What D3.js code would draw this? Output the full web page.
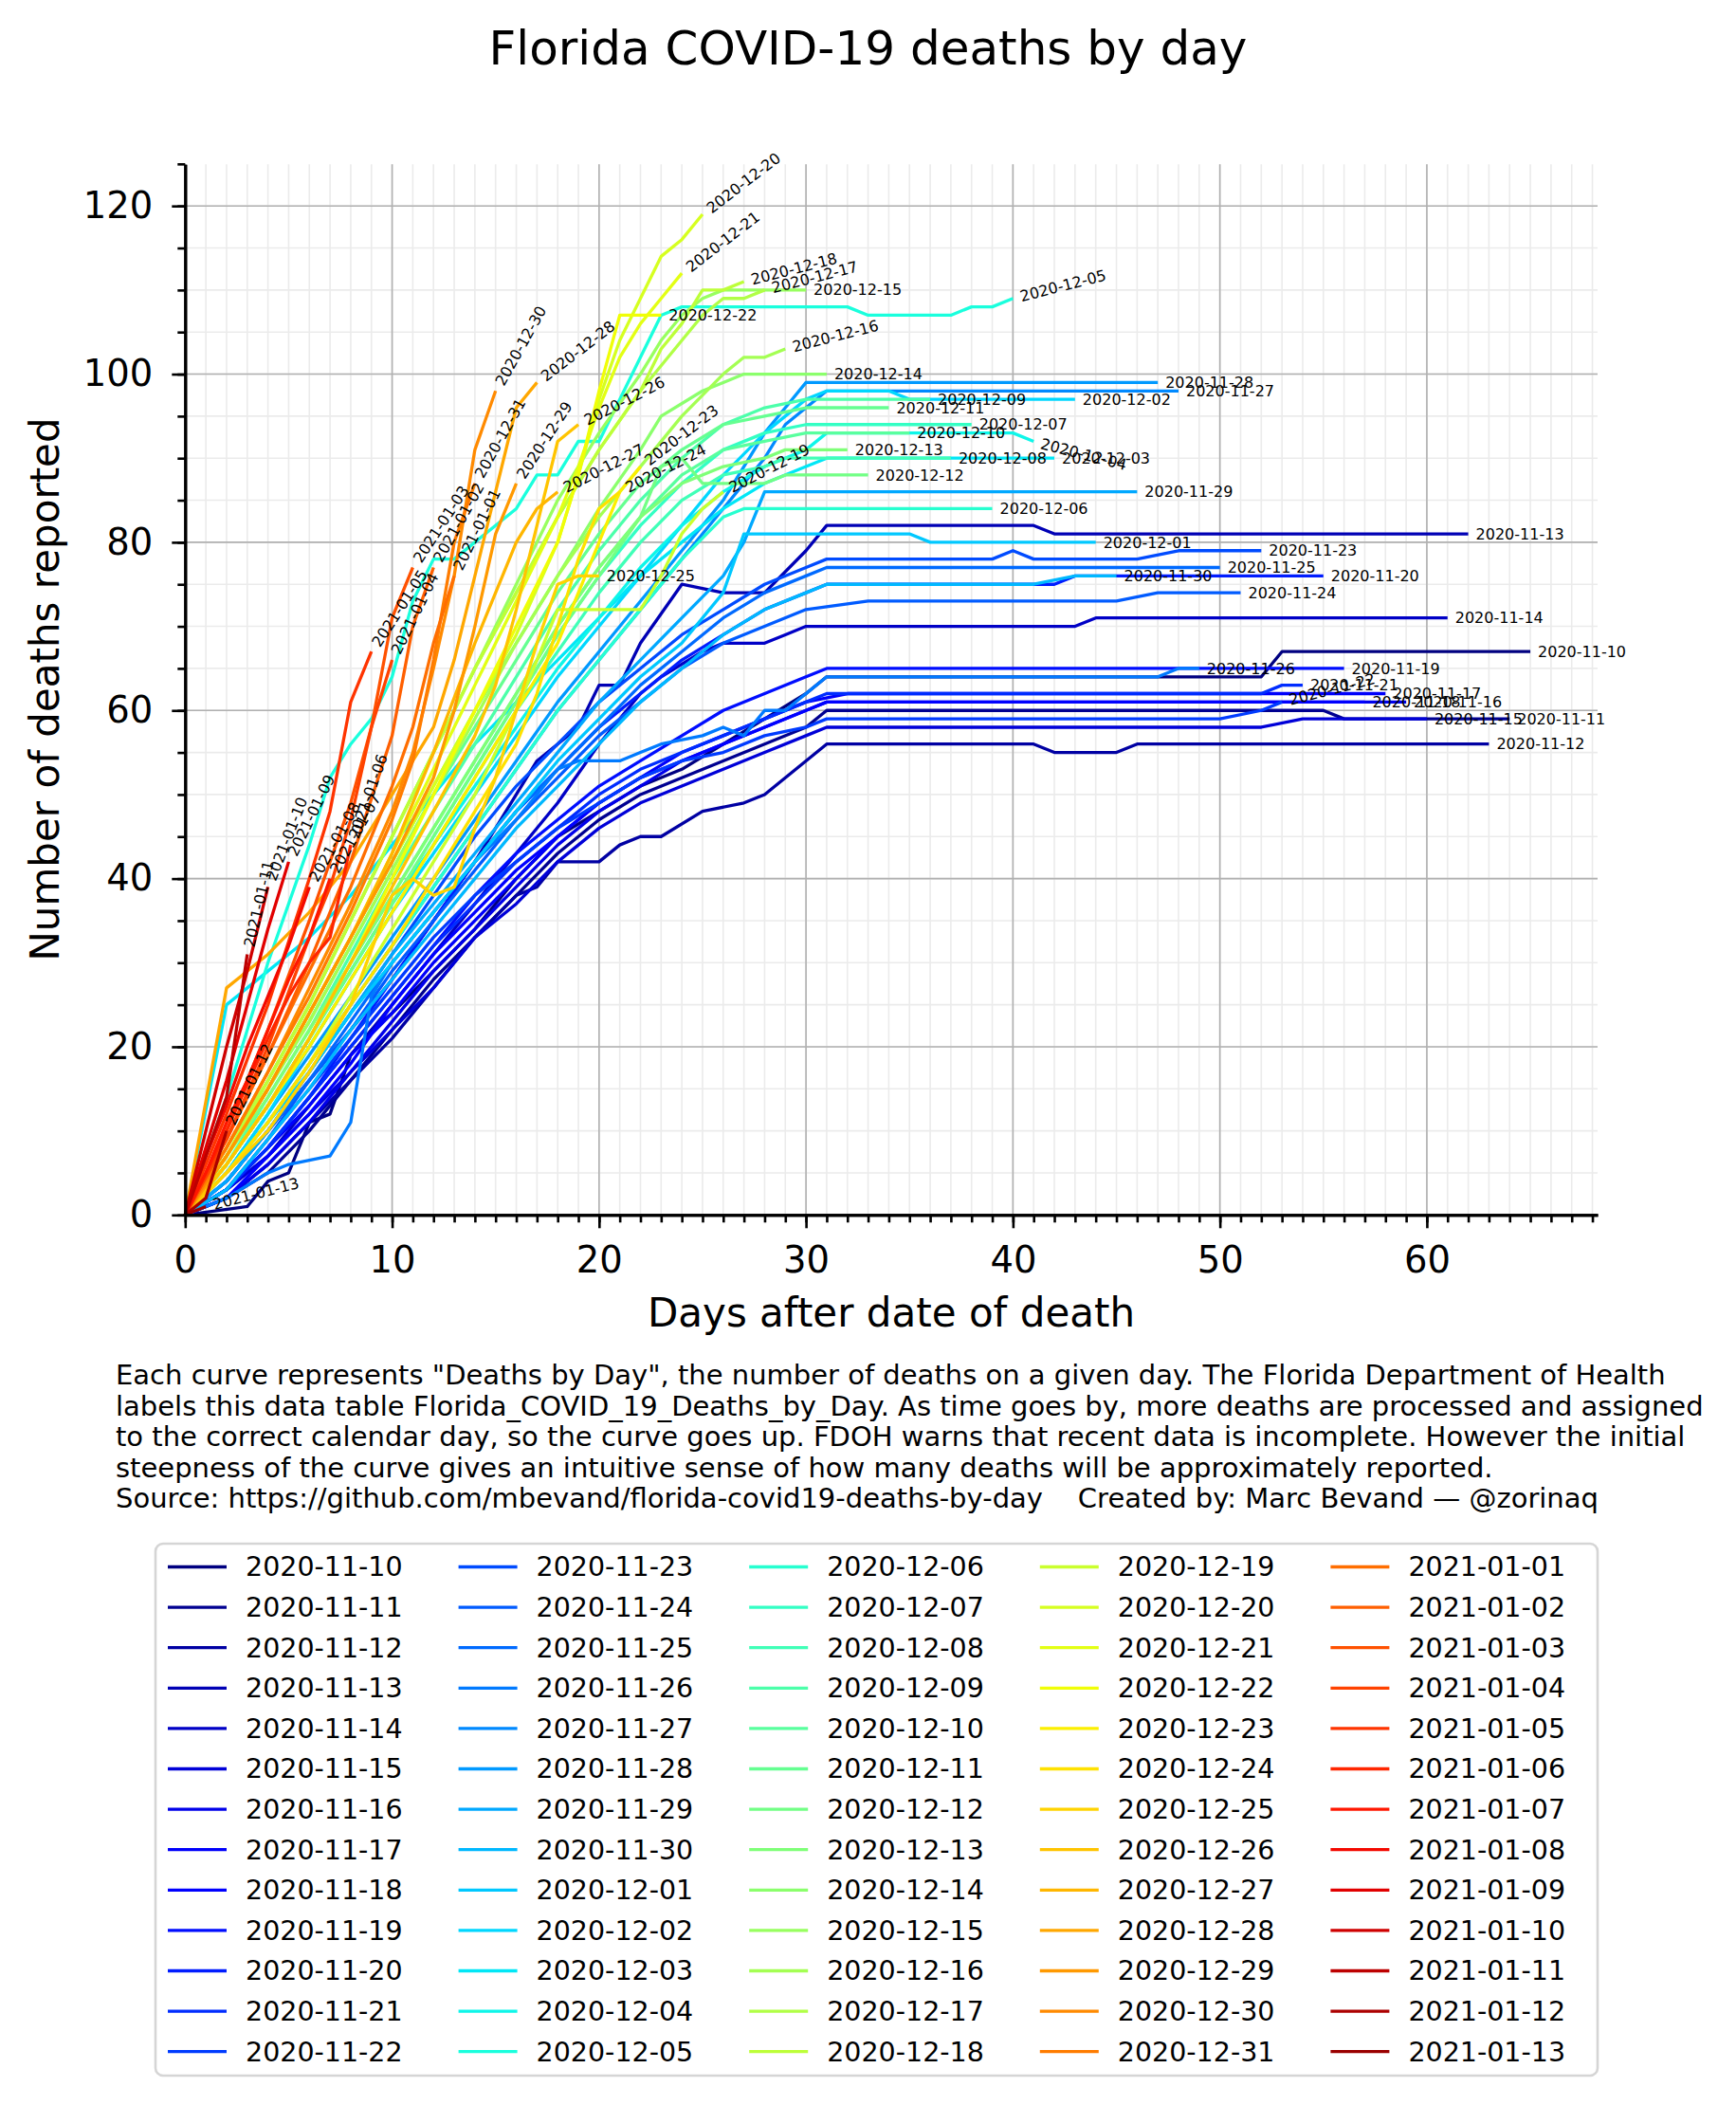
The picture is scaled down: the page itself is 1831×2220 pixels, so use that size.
<!DOCTYPE html>
<html><head><meta charset="utf-8">
<script src="https://cdn.jsdelivr.net/npm/d3@7"></script>
<style>body{margin:0;background:#fff}svg{display:block}text{font-family:"DejaVu Sans",sans-serif}</style>
</head><body><svg id="c" width="1831" height="2220"></svg>
<script>
// ---- data: dates (series names) ----
const novDates = ["2020-11-10","2020-11-11","2020-11-12","2020-11-13","2020-11-14","2020-11-15","2020-11-16","2020-11-17","2020-11-18","2020-11-19","2020-11-20","2020-11-21","2020-11-22","2020-11-23","2020-11-24","2020-11-25","2020-11-26","2020-11-27","2020-11-28","2020-11-29","2020-11-30"];
const decDates = ["2020-12-01","2020-12-02","2020-12-03","2020-12-04","2020-12-05","2020-12-06","2020-12-07","2020-12-08","2020-12-09","2020-12-10","2020-12-11","2020-12-12","2020-12-13","2020-12-14","2020-12-15","2020-12-16","2020-12-17","2020-12-18","2020-12-19","2020-12-20","2020-12-21","2020-12-22","2020-12-23","2020-12-24","2020-12-25","2020-12-26","2020-12-27","2020-12-28","2020-12-29","2020-12-30","2020-12-31"];
const janDates = ["2021-01-01","2021-01-02","2021-01-03","2021-01-04","2021-01-05","2021-01-06","2021-01-07","2021-01-08","2021-01-09","2021-01-10","2021-01-11","2021-01-12","2021-01-13"];

// ---- data: [days after date of death, deaths reported] ----
const novSeries = [
 [[0,0],[3,1],[4,4],[5,5],[6,11],[7,12],[8,19],[9,22],[10,24],[12,29],[14,34],[16,40],[18,45],[20,48],[22,51],[24,53],[26,56],[28,59],[30,62],[31,64],[52,64],[53,67],[65,67]],
 [[0,0],[2,2],[4,5],[6,10],[8,16],[10,22],[12,28],[14,33],[16,38],[18,43],[20,47],[22,50],[24,52],[26,54],[28,56],[30,58],[31,60],[55,60],[56,59],[64,59]],
 [[0,0],[2,2],[4,6],[6,11],[8,16],[10,21],[12,27],[14,33],[16,38],[17,39],[18,42],[20,42],[21,44],[22,45],[23,45],[25,48],[27,49],[28,50],[29,52],[30,54],[31,56],[41,56],[42,55],[45,55],[46,56],[63,56]],
 [[0,0],[2,4],[4,10],[6,16],[8,22],[10,28],[12,35],[14,42],[16,50],[17,54],[19,58],[20,63],[21,63],[22,68],[24,75],[26,74],[28,74],[30,79],[31,82],[41,82],[42,81],[62,81]],
 [[0,0],[2,3],[4,7],[6,13],[8,19],[10,25],[12,31],[14,37],[16,43],[18,49],[20,56],[22,62],[23,64],[25,67],[26,68],[28,68],[29,69],[30,70],[43,70],[44,71],[61,71]],
 [[0,0],[2,3],[4,7],[6,12],[8,17],[10,22],[12,27],[14,33],[16,37],[18,42],[20,46],[22,49],[24,51],[26,53],[28,55],[30,57],[31,58],[52,58],[54,59],[60,59]],
 [[0,0],[2,2],[4,6],[6,11],[8,17],[10,23],[12,29],[14,34],[16,39],[18,44],[20,48],[22,51],[24,54],[26,56],[28,58],[30,60],[31,61],[59,61]],
 [[0,0],[2,3],[4,8],[6,13],[8,19],[10,24],[12,30],[14,35],[16,40],[18,45],[20,49],[22,52],[24,55],[26,57],[28,59],[30,61],[32,62],[58,62]],
 [[0,0],[2,2],[4,7],[6,12],[8,18],[10,25],[12,31],[14,36],[16,41],[18,45],[20,49],[22,52],[24,54],[26,56],[28,58],[30,60],[31,61],[57,61]],
 [[0,0],[2,3],[4,8],[6,14],[8,20],[10,26],[12,32],[14,38],[16,43],[18,47],[20,51],[22,54],[24,57],[26,60],[28,62],[30,64],[31,65],[56,65]],
 [[0,0],[2,3],[4,8],[6,14],[8,21],[10,28],[12,35],[14,42],[16,48],[18,53],[20,58],[22,62],[24,66],[26,69],[28,72],[30,74],[31,75],[42,75],[43,76],[55,76]],
 [[0,0],[2,3],[4,8],[6,14],[8,20],[10,26],[12,32],[14,37],[16,42],[18,46],[20,50],[22,53],[24,55],[26,57],[28,59],[30,61],[31,62],[52,62],[53,63],[54,63]],
 [[0,0],[2,3],[4,9],[6,15],[8,21],[10,27],[12,33],[14,38],[16,42],[18,46],[20,49],[22,52],[24,54],[26,55],[28,57],[30,58],[31,59],[50,59],[52,60],[53,61]],
 [[0,0],[2,4],[4,10],[6,17],[8,24],[10,31],[12,38],[14,45],[16,51],[18,56],[20,61],[22,65],[24,69],[26,72],[28,75],[30,77],[31,78],[39,78],[40,79],[41,78],[46,78],[48,79],[52,79]],
 [[0,0],[2,3],[4,9],[6,16],[8,22],[10,29],[12,35],[14,41],[16,47],[18,52],[20,57],[22,61],[24,65],[26,68],[28,70],[30,72],[33,73],[45,73],[47,74],[51,74]],
 [[0,0],[2,4],[4,10],[6,16],[8,23],[10,30],[12,36],[14,42],[16,48],[18,53],[20,58],[22,63],[24,67],[26,71],[28,74],[30,76],[31,77],[50,77]],
 [[0,0],[2,2],[4,5],[5,6],[7,7],[8,11],[9,26],[10,30],[12,36],[14,42],[16,47],[17,50],[18,53],[19,54],[21,54],[22,55],[23,56],[25,57],[26,58],[27,57],[28,60],[29,60],[30,62],[31,64],[47,64],[48,65],[49,65]],
 [[0,0],[2,5],[4,11],[6,18],[8,25],[10,32],[12,39],[14,46],[16,53],[18,60],[20,66],[22,72],[24,78],[26,84],[28,90],[29,94],[30,96],[31,98],[48,98]],
 [[0,0],[2,5],[4,12],[6,19],[8,26],[10,33],[12,40],[14,47],[16,54],[18,61],[20,67],[22,73],[24,79],[26,85],[28,93],[29,96],[30,99],[47,99]],
 [[0,0],[2,4],[4,10],[6,17],[8,24],[10,31],[12,37],[14,43],[16,49],[18,55],[20,61],[22,66],[24,71],[26,76],[27,80],[28,86],[46,86]],
 [[0,0],[2,3],[4,9],[6,15],[8,22],[10,28],[12,34],[14,40],[16,46],[18,51],[20,56],[22,61],[24,65],[26,69],[28,72],[30,74],[31,75],[41,75],[43,76],[45,76]]
];
const decSeries = [
 [[0,0],[2,5],[4,11],[6,17],[8,24],[10,30],[12,36],[14,42],[16,48],[18,54],[20,59],[22,64],[24,68],[26,74],[27,81],[35,81],[36,80],[44,80]],
 [[0,0],[2,5],[4,12],[6,20],[8,28],[10,36],[12,43],[14,50],[16,57],[18,64],[20,70],[22,76],[24,82],[26,88],[28,93],[30,97],[31,98],[34,98],[35,97],[43,97]],
 [[0,0],[2,25],[3,27],[4,29],[6,33],[8,38],[10,44],[12,50],[14,56],[16,61],[18,66],[20,71],[22,76],[24,80],[26,84],[28,87],[30,89],[31,90],[42,90]],
 [[0,0],[2,6],[4,13],[6,21],[8,29],[10,37],[12,44],[14,51],[16,58],[18,65],[20,71],[22,77],[24,82],[26,86],[28,89],[30,91],[31,93],[40,93],[41,92]],
 [[0,0],[2,14],[4,30],[6,44],[7,52],[8,56],[9,59],[10,64],[11,73],[12,78],[13,78],[14,80],[16,84],[17,88],[18,88],[19,92],[20,92],[21,97],[22,102],[23,107],[24,108],[32,108],[33,107],[37,107],[38,108],[39,108],[40,109]],
 [[0,0],[2,5],[4,11],[6,18],[8,25],[10,32],[12,39],[14,46],[16,53],[18,60],[20,66],[22,72],[24,78],[26,83],[27,84],[39,84]],
 [[0,0],[2,6],[4,13],[6,21],[8,29],[10,37],[12,45],[14,53],[16,61],[18,69],[20,76],[22,82],[24,87],[26,91],[28,93],[30,94],[38,94]],
 [[0,0],[2,6],[4,13],[6,20],[8,28],[10,36],[12,44],[14,52],[16,60],[18,67],[20,74],[22,80],[24,85],[26,88],[28,89],[29,90],[37,90]],
 [[0,0],[2,6],[4,14],[6,22],[8,31],[10,40],[12,48],[14,56],[16,64],[18,72],[20,79],[22,85],[24,90],[26,94],[28,96],[30,97],[36,97]],
 [[0,0],[2,6],[4,13],[6,21],[8,30],[10,38],[12,46],[14,54],[16,62],[18,70],[20,77],[22,83],[24,88],[26,91],[28,92],[30,93],[35,93]],
 [[0,0],[2,7],[4,15],[6,23],[8,32],[10,41],[12,50],[14,58],[16,66],[18,74],[20,81],[22,87],[24,91],[26,94],[28,95],[30,96],[34,96]],
 [[0,0],[2,6],[4,13],[6,21],[8,29],[10,37],[12,45],[14,53],[16,61],[18,69],[20,76],[22,83],[23,89],[24,90],[25,87],[28,87],[29,88],[33,88]],
 [[0,0],[2,7],[4,14],[6,22],[8,30],[10,38],[12,46],[14,54],[16,62],[18,70],[20,77],[22,83],[24,87],[26,89],[28,90],[29,91],[32,91]],
 [[0,0],[2,7],[4,15],[6,24],[8,33],[10,42],[12,51],[14,60],[16,68],[18,76],[20,84],[22,91],[23,95],[25,98],[26,99],[27,100],[31,100]],
 [[0,0],[2,7],[4,16],[6,25],[8,35],[10,45],[12,55],[14,65],[16,75],[18,85],[20,93],[22,100],[23,104],[24,107],[25,109],[26,110],[30,110]],
 [[0,0],[2,7],[4,15],[6,23],[8,32],[10,41],[12,50],[14,59],[16,68],[18,76],[20,83],[22,89],[24,95],[26,100],[27,102],[28,102],[29,103]],
 [[0,0],[2,8],[4,16],[6,25],[8,35],[10,45],[12,55],[14,65],[16,74],[18,83],[20,91],[22,98],[24,104],[25,107],[26,109],[27,109],[28,110]],
 [[0,0],[2,7],[4,16],[6,25],[8,35],[10,45],[12,55],[14,65],[16,74],[18,83],[20,91],[22,98],[23,103],[24,106],[25,110],[26,110],[27,111]],
 [[0,0],[2,5],[4,11],[6,18],[8,26],[10,34],[12,42],[14,50],[16,60],[17,66],[18,72],[22,72],[23,76],[24,81],[25,84],[26,86]],
 [[0,0],[2,7],[4,15],[6,24],[8,33],[10,42],[12,51],[14,60],[16,69],[18,80],[19,88],[20,97],[21,104],[22,109],[23,114],[24,116],[25,119]],
 [[0,0],[2,7],[4,15],[6,24],[8,33],[10,43],[12,53],[14,63],[16,73],[18,83],[19,89],[20,96],[21,102],[22,106],[23,109],[24,112]],
 [[0,0],[2,6],[4,13],[6,21],[8,30],[10,40],[12,50],[14,60],[16,70],[18,80],[19,88],[20,98],[21,107],[23,107]],
 [[0,0],[2,6],[4,13],[6,20],[8,28],[10,36],[12,44],[14,52],[16,60],[18,68],[19,74],[20,80],[21,86],[22,89]],
 [[0,0],[2,5],[4,11],[6,18],[8,25],[10,32],[12,40],[14,48],[16,56],[17,62],[18,70],[19,78],[20,84],[21,86]],
 [[0,0],[2,5],[4,10],[6,17],[8,25],[10,38],[11,40],[12,38],[13,39],[14,46],[15,52],[16,60],[17,68],[18,75],[19,76],[20,76]],
 [[0,0],[2,6],[4,13],[6,21],[8,30],[10,39],[12,48],[14,57],[15,63],[16,72],[17,82],[18,92],[19,94]],
 [[0,0],[2,7],[4,15],[6,24],[8,33],[10,43],[12,55],[14,68],[15,74],[16,80],[17,84],[18,86]],
 [[0,0],[2,27],[3,29],[4,31],[6,36],[8,42],[10,50],[12,58],[13,66],[14,76],[15,86],[16,96],[17,99]],
 [[0,0],[2,7],[4,15],[6,24],[8,33],[10,42],[12,52],[13,60],[14,70],[15,81],[16,87]],
 [[0,0],[2,8],[4,17],[6,27],[8,37],[10,48],[11,55],[12,65],[13,76],[14,91],[15,98]],
 [[0,0],[2,8],[4,17],[6,26],[8,36],[10,47],[11,54],[12,66],[13,80],[14,87]]
];
const janSeries = [
 [[0,0],[2,9],[4,19],[6,29],[8,39],[10,51],[11,58],[12,68],[13,76]],
 [[0,0],[2,9],[4,19],[6,30],[8,42],[10,57],[11,70],[12,77]],
 [[0,0],[2,10],[4,22],[6,35],[8,49],[9,58],[10,71],[11,77]],
 [[0,0],[2,9],[4,20],[6,33],[7,39],[8,47],[9,58],[10,66]],
 [[0,0],[2,12],[4,25],[6,40],[7,48],[8,61],[9,67]],
 [[0,0],[2,10],[4,21],[5,26],[6,30],[7,33],[8,44]],
 [[0,0],[1,5],[2,11],[3,16],[4,22],[5,28],[6,33],[7,40]],
 [[0,0],[1,7],[2,13],[3,20],[4,26],[5,32],[6,39]],
 [[0,0],[1,8],[2,16],[3,25],[4,34],[5,42]],
 [[0,0],[1,10],[2,20],[3,29],[4,39]],
 [[0,0],[1,7],[2,14],[3,31]],
 [[0,0],[1,2],[2,10]],
 [[0,0],[1,1]]
];

// ---- ticks / texts ----
const xMajorTicks = [0,10,20,30,40,50,60];
const yMajorTicks = [0,20,40,60,80,100,120];
const titleText = "Florida COVID-19 deaths by day";
const xLabel = "Days after date of death";
const yLabel = "Number of deaths reported";
const noteLines = [
 "Each curve represents \"Deaths by Day\", the number of deaths on a given day. The Florida Department of Health",
 "labels this data table Florida_COVID_19_Deaths_by_Day. As time goes by, more deaths are processed and assigned",
 "to the correct calendar day, so the curve goes up. FDOH warns that recent data is incomplete. However the initial",
 "steepness of the curve gives an intuitive sense of how many deaths will be approximately reported.",
 "Source: https://github.com/mbevand/florida-covid19-deaths-by-day    Created by: Marc Bevand \u2014 @zorinaq"
];

// ---- jet colormap (matplotlib segment data) ----
const JR=[[0,0],[0.35,0],[0.66,1],[0.89,1],[1,0.5]];
const JG=[[0,0],[0.125,0],[0.375,1],[0.64,1],[0.91,0],[1,0]];
const JB=[[0,0.5],[0.11,1],[0.34,1],[0.65,0],[1,0]];
function segv(s,t){for(let i=0;i<s.length-1;i++){if(t<=s[i+1][0]){const a=s[i],b=s[i+1];return a[1]+(b[1]-a[1])*(t-a[0])/(b[0]-a[0]);}}return s[s.length-1][1];}
function jet(t){return d3.rgb(Math.round(255*segv(JR,t)),Math.round(255*segv(JG,t)),Math.round(255*segv(JB,t))).formatHex();}

const dates = novDates.concat(decDates, janDates);
const series = novSeries.concat(decSeries, janSeries);
const color = i => jet(i/65.5);

const svg = d3.select("#c");
svg.append("rect").attr("width",1831).attr("height",2220).attr("fill","#fff");

const x = d3.scaleLinear().domain([0,68.25]).range([195.3,1685]);
const y = d3.scaleLinear().domain([0,124.95]).range([1281.3,173.3]);

// grid
const grid = svg.append("g");
grid.selectAll(".gxm").data(d3.range(0,69)).enter().append("line")
 .attr("x1",d=>x(d)).attr("x2",d=>x(d)).attr("y1",y(0)).attr("y2",y(124.95))
 .attr("stroke","#ebebeb").attr("stroke-width",1.6);
grid.selectAll(".gym").data(d3.range(0,125,5)).enter().append("line")
 .attr("x1",x(0)).attr("x2",x(68.25)).attr("y1",d=>y(d)).attr("y2",d=>y(d))
 .attr("stroke","#ebebeb").attr("stroke-width",1.6);
grid.selectAll(".gxM").data(xMajorTicks).enter().append("line")
 .attr("x1",d=>x(d)).attr("x2",d=>x(d)).attr("y1",y(0)).attr("y2",y(124.95))
 .attr("stroke","#b0b0b0").attr("stroke-width",1.6);
grid.selectAll(".gyM").data(yMajorTicks).enter().append("line")
 .attr("x1",x(0)).attr("x2",x(68.25)).attr("y1",d=>y(d)).attr("y2",d=>y(d))
 .attr("stroke","#b0b0b0").attr("stroke-width",1.6);

// lines
const line = d3.line().x(d=>x(d[0])).y(d=>y(d[1]));
const lg = svg.append("g");
series.forEach((s,i)=>{
  lg.append("path").attr("d",line(s)).attr("fill","none").attr("stroke",color(i))
    .attr("stroke-width",3.3).attr("stroke-linejoin","round").attr("stroke-linecap","butt");
});

// end labels
const lab = svg.append("g").attr("font-size",16).attr("fill","#000");
series.forEach((s,i)=>{
  const a=s[s.length-1], b=s[s.length-2];
  const slope=(a[1]-b[1])/(a[0]-b[0]);
  const deg=Math.atan(0.256*slope)*180/Math.PI;
  lab.append("text").attr("transform",`translate(${x(a[0])},${y(a[1])}) rotate(${-deg})`)
    .attr("x",8).attr("dy","0.35em").text(dates[i]);
});

// axes
function styleAxis(g){g.select(".domain").attr("stroke","#000").attr("stroke-width",3);
  g.selectAll(".tick line").attr("stroke","#000").attr("stroke-width",2.6);
  g.selectAll(".tick text").attr("fill","#000").attr("font-family","DejaVu Sans").attr("font-size",38.5);}
svg.append("g").attr("transform",`translate(0,${y(0)})`)
 .call(d3.axisBottom(x).tickValues(d3.range(0,69)).tickSize(8).tickSizeOuter(0).tickFormat(""))
 .call(styleAxis);
svg.append("g").attr("transform",`translate(${x(0)},0)`)
 .call(d3.axisLeft(y).tickValues(d3.range(0,126,5)).tickSize(8).tickSizeOuter(0).tickFormat(""))
 .call(styleAxis);
svg.append("g").attr("transform",`translate(0,${y(0)})`)
 .call(d3.axisBottom(x).tickValues(xMajorTicks).tickSize(14).tickSizeOuter(0).tickPadding(19))
 .call(styleAxis);
svg.append("g").attr("transform",`translate(${x(0)},0)`)
 .call(d3.axisLeft(y).tickValues(yMajorTicks).tickSize(14).tickSizeOuter(0).tickPadding(20))
 .call(styleAxis);

// titles
svg.append("text").attr("x",915.5).attr("y",68).attr("text-anchor","middle").attr("font-size",50).text(titleText);
svg.append("text").attr("x",940).attr("y",1399).attr("text-anchor","middle").attr("font-size",42).text(xLabel);
svg.append("text").attr("transform","translate(62,727) rotate(-90)").attr("text-anchor","middle").attr("font-size",42).text(yLabel);

// note
const note = svg.append("g").attr("font-size",29);
noteLines.forEach((t,i)=>{
  note.append("text").attr("x",122).attr("y",1460+i*32.5).attr("xml:space","preserve").style("white-space","pre").text(t);
});

// legend
const leg = svg.append("g");
leg.append("rect").attr("x",164).attr("y",1628).attr("width",1521).attr("height",561)
 .attr("rx",8).attr("fill","#fff").attr("stroke","#d5d5d5").attr("stroke-width",2.6);
dates.forEach((d,i)=>{
  const col=Math.floor(i/13), row=i%13;
  const lx=177+col*306.6, cy=1652.5+row*42.6;
  leg.append("line").attr("x1",lx).attr("x2",lx+62).attr("y1",cy).attr("y2",cy)
    .attr("stroke",color(i)).attr("stroke-width",3.3);
  leg.append("text").attr("x",lx+82).attr("y",cy).attr("dy","0.35em").attr("font-size",28.5).text(d);
});
</script></body></html>
